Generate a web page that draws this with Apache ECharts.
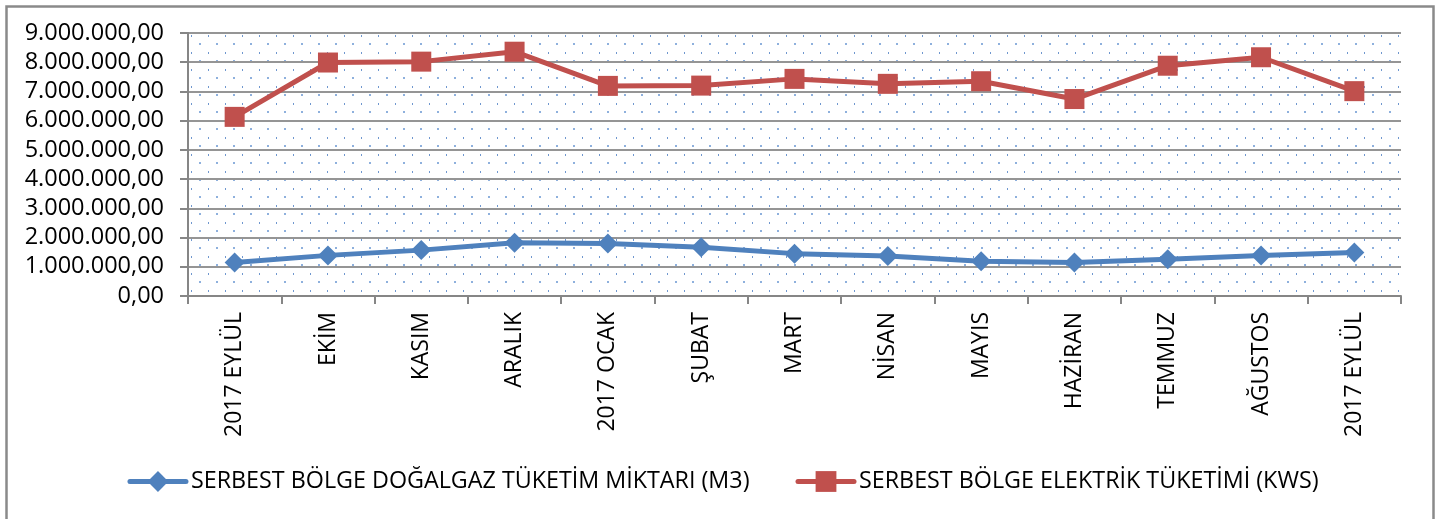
<!DOCTYPE html>
<html>
<head>
<meta charset="utf-8">
<script src="https://cdn.jsdelivr.net/npm/echarts@6/dist/echarts.min.js"></script>
<style>
html,body{margin:0;padding:0;background:#fff;}
#chart{width:1446px;height:519px;}
</style>
</head>
<body>
<div id="chart"></div>
<script>
const categories = ['2017 EYLÜL','EKİM','KASIM','ARALIK','2017 OCAK','ŞUBAT','MART','NİSAN','MAYIS','HAZİRAN','TEMMUZ','AĞUSTOS','2017 EYLÜL'];
const gasValues = [1150000, 1390000, 1570000, 1820000, 1800000, 1670000, 1450000, 1370000, 1190000, 1150000, 1260000, 1390000, 1490000];
const elecValues = [6130000, 7990000, 8020000, 8360000, 7190000, 7200000, 7430000, 7260000, 7350000, 6740000, 7880000, 8170000, 7010000];
const gasName = 'SERBEST BÖLGE DOĞALGAZ TÜKETİM MİKTARI (M3)';
const elecName = 'SERBEST BÖLGE ELEKTRİK TÜKETİMİ (KWS)';
const yMin = 0, yMax = 9000000, yStep = 1000000;

function fmt(v){
  const s = Math.round(v).toString().replace(/\B(?=(\d{3})+(?!\d))/g, '.');
  return s + ',00';
}

// dotted background pattern
const tile = document.createElement('canvas');
tile.width = 17; tile.height = 17;
const tc = tile.getContext('2d');
tc.fillStyle = '#8eb0dd';
tc.fillRect(12, 9, 2, 2);
tc.fillStyle = '#6f97cf';
tc.fillRect(4, 1, 1, 2);

const chart = echarts.init(document.getElementById('chart'), null, {renderer:'canvas'});
const font = '"Open Sans", sans-serif';
chart.setOption({
  animation: false,
  backgroundColor: '#fff',
  graphic: [{
    type: 'rect', left: 4, top: 4, z: 100, silent: true,
    shape: {x: 0, y: 0, width: 1427, height: 514},
    style: {fill: 'none', stroke: '#8a8a8a', lineWidth: 2.5}
  }],
  grid: {
    left: 188, right: 45, top: 33, bottom: 223,
    show: true, borderWidth: 0,
    backgroundColor: {image: tile, repeat: 'repeat'}
  },
  legend: {
    left: 'center', top: 465,
    itemWidth: 56, itemHeight: 26, itemGap: 46,
    lineStyle: {width: 5, cap: 'round'},
    textStyle: {fontFamily: font, fontSize: 23.3, color: '#000'},
    data: [gasName, elecName]
  },
  xAxis: {
    type: 'category', data: categories, boundaryGap: true,
    axisLine: {lineStyle: {color: '#868686', width: 2}},
    axisTick: {show: true, length: 8, lineStyle: {color: '#868686', width: 2}},
    axisLabel: {rotate: 90, margin: 16, interval: 0, fontFamily: font, fontSize: 23, color: '#000'}
  },
  yAxis: {
    type: 'value', min: yMin, max: yMax, interval: yStep,
    axisLine: {show: true, lineStyle: {color: '#868686', width: 2}},
    axisTick: {show: true, length: 8, lineStyle: {color: '#868686', width: 2}},
    splitLine: {show: true, lineStyle: {color: '#959595', width: 2}},
    axisLabel: {margin: 24, fontFamily: font, fontSize: 23.5, color: '#000', formatter: fmt}
  },
  series: [
    {
      name: gasName, type: 'line', data: gasValues,
      symbol: 'diamond', symbolSize: 20,
      lineStyle: {color: '#4F81BD', width: 5, cap: 'round', join: 'round'},
      itemStyle: {color: '#4F81BD'}
    },
    {
      name: elecName, type: 'line', data: elecValues,
      symbol: 'rect', symbolSize: 20,
      lineStyle: {color: '#C0504D', width: 5, cap: 'round', join: 'round'},
      itemStyle: {color: '#C0504D'}
    }
  ]
});
</script>
</body>
</html>
